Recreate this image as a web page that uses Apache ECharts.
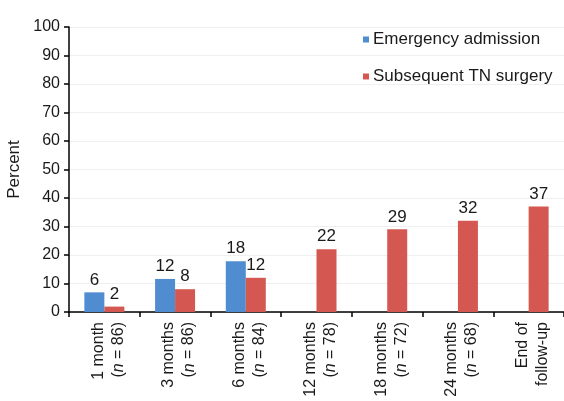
<!DOCTYPE html>
<html><head><meta charset="utf-8">
<script src="https://cdn.jsdelivr.net/npm/echarts@6/dist/echarts.min.js"></script>
<style>html,body{margin:0;padding:0;background:#fff}#c{width:564px;height:401px}</style>
</head><body><div id="c"></div>
<script>
const periods = ['1 month', '3 months', '6 months', '12 months', '18 months', '24 months', 'End of'];
const sampleSizes = ['86', '86', '84', '78', '72', '68', null];
const lastLine = 'follow-up';
const emergencyValues = [6.9, 11.6, 17.8, null, null, null, null];
const emergencyLabels = ['6', '12', '18', '', '', '', ''];
const surgeryValues = [1.9, 8, 12, 22, 29, 32, 37];
const surgeryLabels = ['2', '8', '12', '22', '29', '32', '37'];
const yTicks = [0, 10, 20, 30, 40, 50, 60, 70, 80, 90, 100];

const FONT = 'Liberation Sans';
const TXT = '#1a1a1a';
const categories = periods.map((p, i) => sampleSizes[i] ? p + '\n({i|n} = ' + sampleSizes[i] + ')' : p + '\n' + lastLine);

const chart = echarts.init(document.getElementById('c'), null, {renderer: 'canvas'});
chart.setOption({
  animation: false,
  textStyle: {fontFamily: FONT},
  legend: {
    orient: 'vertical', left: 358, top: 26,
    itemWidth: 6, itemHeight: 6, itemGap: 20,
    icon: 'rect',
    textStyle: {fontSize: 17, color: TXT, fontFamily: FONT, padding: [0, 0, 0, -1]},
    data: ['Emergency admission', 'Subsequent TN surgery']
  },
  grid: {left: 69, right: 0, top: 27, bottom: 89, containLabel: false, outerBoundsMode: 'none'},
  xAxis: {
    type: 'category', data: categories,
    axisLine: {lineStyle: {color: '#000', width: 1.5}},
    axisTick: {show: true, length: 5, lineStyle: {color: '#000', width: 1.5}},
    axisLabel: {
      rotate: 90, fontSize: 16, color: TXT, fontFamily: FONT, margin: 10, lineHeight: 20,
      interval: 0, padding: [8, 0, 0, 0],
      rich: {i: {fontStyle: 'italic', fontSize: 16, color: TXT, fontFamily: FONT, lineHeight: 20}}
    }
  },
  yAxis: {
    type: 'value', min: 0, max: 100, interval: 10,
    name: 'Percent', nameLocation: 'middle', nameGap: 43, nameRotate: 90,
    nameTextStyle: {fontSize: 17, color: TXT, fontFamily: FONT},
    axisLine: {show: true, lineStyle: {color: '#000', width: 1.5}},
    axisTick: {show: true, length: 5, lineStyle: {color: '#000', width: 1.5}},
    axisLabel: {fontSize: 16, color: TXT, fontFamily: FONT, margin: 9,
      formatter: v => yTicks.includes(v) ? String(v) : ''},
    splitLine: {show: true, lineStyle: {color: '#efefef', width: 1}}
  },
  series: [
    {
      name: 'Emergency admission', type: 'bar', data: emergencyValues,
      barWidth: 20, barGap: '0%',
      itemStyle: {color: '#508cd0'},
      label: {show: true, position: 'top', fontSize: 17, color: TXT, fontFamily: FONT, distance: 4,
        formatter: p => emergencyLabels[p.dataIndex]}
    },
    {
      name: 'Subsequent TN surgery', type: 'bar', data: surgeryValues,
      barWidth: 20, barGap: '0%',
      itemStyle: {color: '#d45851'},
      label: {show: true, position: 'top', fontSize: 17, color: TXT, fontFamily: FONT, distance: 4,
        formatter: p => surgeryLabels[p.dataIndex]}
    }
  ]
});
</script>
</body></html>
